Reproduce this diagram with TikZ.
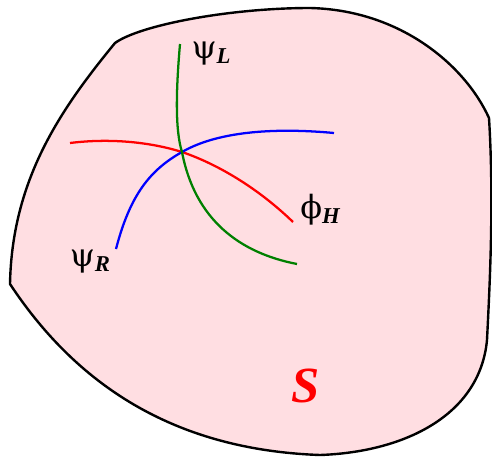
\documentclass[tikz,border=0pt]{standalone}
\usepackage{fontspec}
\setmainfont{Liberation Serif}
\newfontfamily\greekfont{DejaVu Serif}
\usepackage{xcolor}
\usepackage{tikz}
\definecolor{surfpink}{RGB}{255,222,226}
\definecolor{darkgreen}{RGB}{0,128,0}
\newcommand{\fieldlabel}[2]{{\fontsize{24}{28}\selectfont\greekfont #1}\raisebox{-0.35em}{\fontsize{17}{18}\selectfont\bfseries\itshape #2}}

\begin{document}
\begin{tikzpicture}[x=0.75pt, y=-0.75pt]
        \tikzstyle{border} = [draw=black, line width=1.8pt, fill=surfpink, line join=round]
        \tikzstyle{curve} = [line width=1.7pt]
        \tikzstyle{label} = [inner sep=0pt, anchor=center]

        \useasboundingbox (0,0) rectangle (492,457);

        % the surface S
        \path [border] (10,284) .. controls (12,180) and (60,110) .. (115,43)
            .. controls (140,25) and (230,8) .. (310,8)
            .. controls (400,10) and (465,65) .. (489,118)
            .. controls (494,200) and (490,280) .. (487,340)
            .. controls (480,415) and (405,452) .. (320,455)
            .. controls (180,450) and (80,390) .. (10,284) -- cycle;

        \coordinate (cross) at (182,152);

        % three curves meeting in one point
        \draw [curve, red] (70,143) .. controls (110,138) and (150,142) .. (cross)
            .. controls (220,165) and (260,190) .. (293,222);
        \draw [curve, blue] (116,249) .. controls (130,195) and (150,170) .. (cross)
            .. controls (220,130) and (280,128) .. (334,133);
        \draw [curve, darkgreen] (180,44) .. controls (176,90) and (175,130) .. (cross)
            .. controls (195,220) and (240,253) .. (297,264);

        \node [label] (psiL) at (211,54) {\fieldlabel{ψ}{L}};
        \node [label] (phiH) at (320,210) {\fieldlabel{ϕ}{H}};
        \node [label] (psiR) at (90,262) {\fieldlabel{ψ}{R}};
        \node [label, text=red] (surf) at (306,386) {\fontsize{38}{42}\selectfont\bfseries\itshape S};
    \end{tikzpicture}
\end{document}
